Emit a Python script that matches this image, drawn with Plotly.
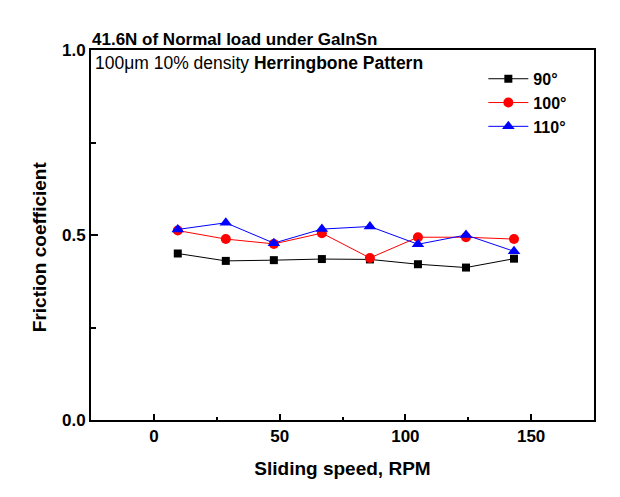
import plotly.graph_objects as go

speed = [9.5, 28.6, 47.7, 66.8, 85.9, 105.0, 124.1, 143.2]
mu_90 = [0.450, 0.430, 0.432, 0.435, 0.434, 0.421, 0.412, 0.436]
mu_100 = [0.512, 0.489, 0.476, 0.505, 0.438, 0.494, 0.494, 0.489]
mu_110 = [0.515, 0.533, 0.478, 0.516, 0.523, 0.475, 0.500, 0.456]
series_names = ["90°", "100°", "110°"]
title_text = "41.6N of Normal load under GaInSn"
subtitle_regular = "100μm 10% density "
subtitle_bold = "Herringbone Pattern"
x_title = "Sliding speed, RPM"
y_title = "Friction coefficient"

FONT = "Liberation Sans, Arial, sans-serif"

fig = go.Figure()
styles = [("black", "square", 8), ("red", "circle", 10), ("blue", "triangle-up", 11)]
for name, ys, (col, sym, sz) in zip(series_names, [mu_90, mu_100, mu_110], styles):
    fig.add_trace(go.Scatter(
        x=speed, y=ys, name=name, mode="lines+markers",
        line=dict(color=col, width=1),
        marker=dict(color=col, symbol=sym, size=sz),
    ))

axis_common = dict(
    showline=True, linecolor="black", linewidth=2, mirror=True,
    ticks="inside", tickcolor="black", tickwidth=2,
    showgrid=False, zeroline=False,
    tickfont=dict(family=FONT, size=17, color="black", weight="bold"),
)

fig.update_xaxes(
    range=[-25, 175], tickvals=[0, 50, 100, 150], ticklen=6,
    minor=dict(ticks="inside", ticklen=3, tickvals=[25, 75, 125], tickcolor="black", tickwidth=2),
    title=dict(text="<b>" + x_title + "</b>", font=dict(family=FONT, size=19, color="black"), standoff=16),
    **axis_common,
)
fig.update_yaxes(
    range=[0, 1.0], tickvals=[0, 0.5, 1.0], tickformat=".1f", ticklen=7,
    minor=dict(ticks="inside", ticklen=5, tickvals=[0.25, 0.75], tickcolor="black", tickwidth=2),
    **axis_common,
)

# y-axis title (placed slightly below centre, as in the reference)
fig.add_annotation(
    xref="paper", yref="paper", x=0, y=0.467, xanchor="center", yanchor="middle",
    text="<b>" + y_title + "</b>", textangle=-90, showarrow=False, xshift=-52,
    font=dict(family=FONT, size=19, color="black"),
)
fig.add_annotation(
    xref="paper", yref="paper", x=0, y=1, xanchor="left", yanchor="bottom",
    text="<b>" + title_text + "</b>", showarrow=False, xshift=-1, yshift=-1,
    font=dict(family=FONT, size=17, color="black"),
)
fig.add_annotation(
    xref="paper", yref="paper", x=0, y=1, xanchor="left", yanchor="top",
    text=subtitle_regular + "<b>" + subtitle_bold + "</b>", showarrow=False, xshift=2, yshift=-1,
    font=dict(family=FONT, size=17.5, color="black"),
)

fig.update_layout(
    width=620, height=497,
    margin=dict(l=83, r=34, t=42, b=85),
    paper_bgcolor="white", plot_bgcolor="white",
    showlegend=True,
    legend=dict(
        x=0.78, y=0.968, xanchor="left", yanchor="top",
        bgcolor="rgba(0,0,0,0)", itemwidth=40,
        font=dict(family=FONT, size=16, color="black", weight="bold"),
        tracegroupgap=0,
    ),
)

fig.write_html("out.html")
